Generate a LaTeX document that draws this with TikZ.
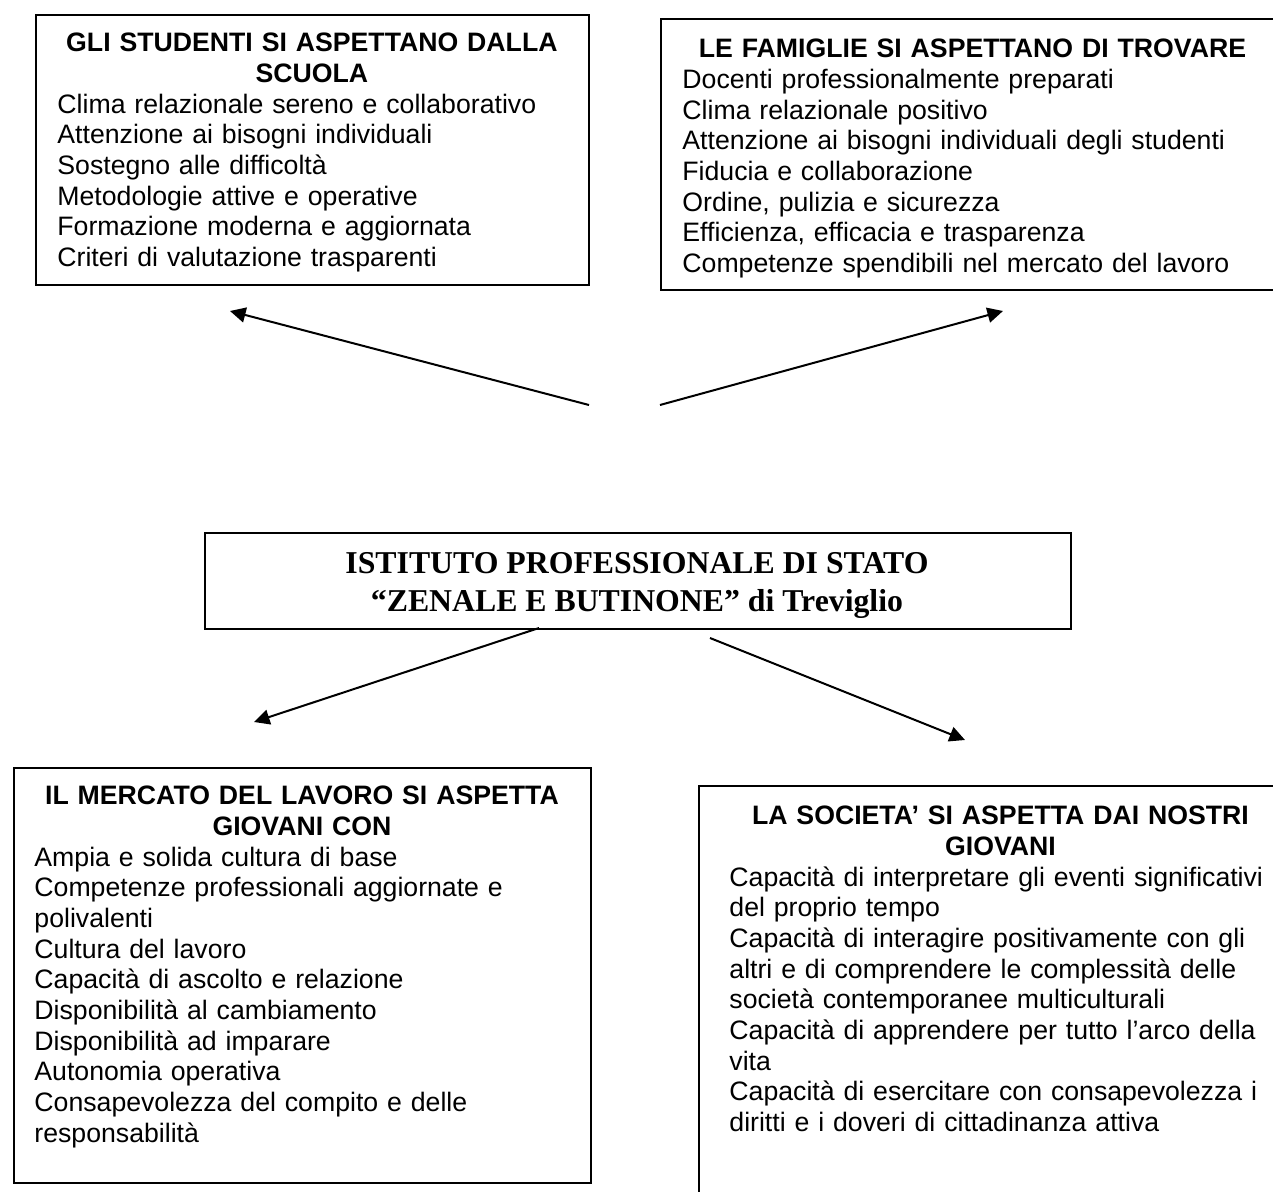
\documentclass[tikz,border=0pt]{standalone}
\usepackage{fontspec}
\setmainfont{Liberation Sans}
\newfontfamily\serifbold{Liberation Serif}
\usetikzlibrary{arrows.meta}
\newcommand{\boxhead}[2]{\makebox[#1][c]{\strut\bfseries #2}}

\begin{document}
\begin{tikzpicture}[x=0.45pt,y=-0.45pt,>={Triangle[length=7pt,width=6.8pt]},
  frame/.style={draw,line width=0.8pt,rectangle,anchor=north west,inner sep=0pt},
  list/.style={anchor=north west,inner sep=0pt,align=left,text width=300pt,font={\fontsize{12pt}{13.8pt}\selectfont}},
  link/.style={->,line width=0.9pt}]
            \useasboundingbox (0,0) rectangle (1273,1192);
            \fill[white] (0,0) rectangle (1273,1192);

            % frames
            \node[frame, minimum width=248.85pt, minimum height=121.5pt] (stud) at (35,14) {};
            \node[frame, minimum width=280.8pt, minimum height=121.95pt] (fam) at (660,18) {};
            \node[frame, minimum width=389.7pt, minimum height=43.2pt] (ist) at (204,532) {};
            \node[frame, minimum width=259.65pt, minimum height=186.75pt] (lav) at (13,767) {};
            \node[frame, minimum width=271.8pt, minimum height=200.25pt] (soc) at (698,785) {};

            % texts
            \node[list] (studtxt) at (57,30) {\boxhead{229pt}{GLI STUDENTI SI ASPETTANO DALLA}\\
                \boxhead{229pt}{SCUOLA}\\
                Clima relazionale sereno e collaborativo\\
                Attenzione ai bisogni individuali\\
                Sostegno alle difficoltà\\
                Metodologie attive e operative\\
                Formazione moderna e aggiornata\\
                Criteri di valutazione trasparenti};
            \node[list] (famtxt) at (682,36) {\boxhead{261pt}{LE FAMIGLIE SI ASPETTANO DI TROVARE}\\
                Docenti professionalmente preparati\\
                Clima relazionale positivo\\
                Attenzione ai bisogni individuali degli studenti\\
                Fiducia e collaborazione\\
                Ordine, pulizia e sicurezza\\
                Efficienza, efficacia e trasparenza\\
                Competenze spendibili nel mercato del lavoro};
            \node[anchor=north, inner sep=0pt, align=center, font={\serifbold\bfseries\fontsize{14.3pt}{17.1pt}\selectfont}] (isttxt) at (637,546)
                {\strut ISTITUTO PROFESSIONALE DI STATO\\“ZENALE E BUTINONE” di Treviglio};
            \node[list] (lavtxt) at (34,783) {\boxhead{240.75pt}{IL MERCATO DEL LAVORO SI ASPETTA}\\
                \boxhead{240.75pt}{GIOVANI CON}\\
                Ampia e solida cultura di base\\
                Competenze professionali aggiornate e\\
                polivalenti\\
                Cultura del lavoro\\
                Capacità di ascolto e relazione\\
                Disponibilità al cambiamento\\
                Disponibilità ad imparare\\
                Autonomia operativa\\
                Consapevolezza del compito e delle\\
                responsabilità};
            \node[list] (soctxt) at (729,803) {\boxhead{243.9pt}{LA SOCIETA’ SI ASPETTA DAI NOSTRI}\\
                \boxhead{243.9pt}{GIOVANI}\\
                Capacità di interpretare gli eventi significativi\\
                del proprio tempo\\
                Capacità di interagire positivamente con gli\\
                altri e di comprendere le complessità delle\\
                società contemporanee multiculturali\\
                Capacità di apprendere per tutto l’arco della\\
                vita\\
                Capacità di esercitare con consapevolezza i\\
                diritti e i doveri di cittadinanza attiva};

            % arrow ends
            \coordinate (studfrom) at (589,405);
            \coordinate (studto) at (230,311);
            \coordinate (famfrom) at (660,405);
            \coordinate (famto) at (1003,311);
            \coordinate (lavfrom) at (539,628);
            \coordinate (lavto) at (254,722);
            \coordinate (socfrom) at (710,638);
            \coordinate (socto) at (965,740);

            \draw[link] (studfrom) -- (studto);
            \draw[link] (famfrom) -- (famto);
            \draw[link] (lavfrom) -- (lavto);
            \draw[link] (socfrom) -- (socto);
        \end{tikzpicture}
\end{document}
